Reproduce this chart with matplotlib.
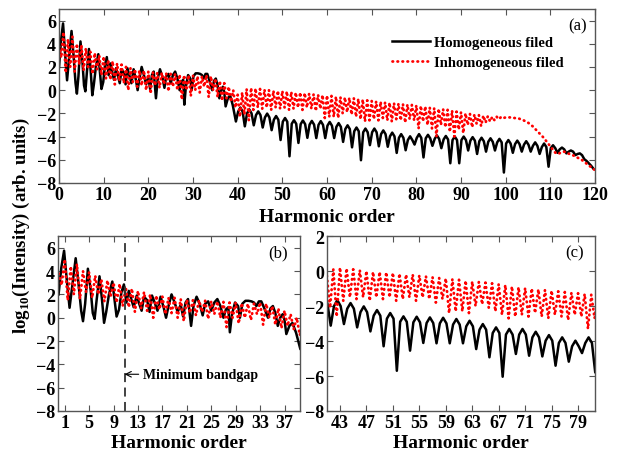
import numpy as np
import matplotlib
matplotlib.use('Agg')
import matplotlib.pyplot as plt

plt.rcParams['font.family'] = ['Liberation Serif', 'DejaVu Serif']
plt.rcParams['font.weight'] = 'bold'
plt.rcParams['axes.labelweight'] = 'bold'
plt.rcParams['mathtext.fontset'] = 'custom'
plt.rcParams['mathtext.rm'] = 'Liberation Serif:bold'
plt.rcParams['mathtext.bf'] = 'Liberation Serif:bold'

# ---------------- data ----------------
# Homogeneous field, low orders: explicit (order, log10 I) points
black_low_x = [0.0, 0.45, 0.9, 1.35, 1.8, 2.3, 2.8, 3.25, 3.7, 4.0, 4.35, 4.8, 5.25, 5.6, 5.9,
               6.25, 6.7, 7.1, 7.45, 7.8, 8.25, 8.8, 9.15, 9.5, 9.9, 10.3, 10.7, 11.1, 11.5,
               11.9, 12.3, 12.8, 13.2, 13.6, 14.0, 14.5, 14.9, 15.3, 15.8, 16.2, 16.7, 17.2,
               17.6, 18.0, 18.5, 19.0, 19.5, 20.0, 20.4, 20.8, 21.2, 21.7, 22.1, 22.6, 23.1,
               23.6, 24.0, 24.5, 25.0, 25.5, 26.0, 26.5, 27.0, 27.4, 27.8, 28.05, 28.4, 28.9,
               29.4, 29.7, 30.1, 30.6, 31.1, 31.6, 32.0, 32.4, 32.8, 33.2, 33.7, 34.3, 34.7,
               35.1, 35.5, 35.9, 36.3, 36.7, 37.0, 37.3, 37.8, 38.3, 38.9]
black_low_y = [2.0, 4.3, 5.75, 3.2, 0.85, 3.0, 5.1, 3.0, 0.6, -0.3, 1.2, 4.2, 2.4, 0.4, -0.1,
               1.6, 3.55, 1.6, -0.44, 0.5, 2.0, 3.1, 1.6, 0.1, 0.7, 2.2, 2.85, 1.3, 2.3,
               1.6, 0.9, 1.9, 1.2, 0.6, 1.8, 1.5, 0.5, 1.9, 1.2, 0.6, 1.8, 0.9,
               0.0, 1.0, 2.0, 1.3, 0.5, 1.1, 0.1, 1.3, 1.6, -0.7, 1.0, 1.8, 1.2,
               0.2, 1.2, 1.4, 0.6, 1.3, 1.6, 1.0, 0.0, 0.7, 0.9, -1.25, 0.3, 1.3,
               1.0, 0.0, 1.2, 1.45, 1.45, 1.4, 1.3, 1.0, 1.4, 1.4, 0.8, 0.0, 0.8,
               1.0, 0.4, -0.7, 0.0, 0.3, -0.2, -1.4, -0.7, -0.45, -1.3]
# Homogeneous field, orders 39.6 .. 119.6 every half order (trough, shoulder, peak, shoulder ...)
black_high_start = 39.6
black_high_y = [
    -2.70, -1.85, -1.50, -1.85,
    -3.12, -2.00, -1.66, -2.00,
    -3.03, -2.15, -1.83, -2.15,
    -3.22, -2.35, -2.02, -2.35,
    -3.45, -2.55, -2.23, -2.55,
    -4.30, -2.72, -2.40, -2.72,
    -5.70, -2.90, -2.59, -2.90,
    -4.55, -2.93, -2.61, -2.93,
    -4.11, -2.97, -2.65, -2.97,
    -4.13, -2.99, -2.67, -2.99,
    -4.13, -3.06, -2.74, -3.06,
    -4.13, -3.16, -2.84, -3.16,
    -4.46, -3.35, -3.03, -3.35,
    -4.93, -3.54, -3.22, -3.54,
    -6.04, -3.63, -3.31, -3.63,
    -4.74, -3.63, -3.31, -3.63,
    -4.84, -3.79, -3.47, -3.79,
    -4.88, -3.98, -3.66, -3.98,
    -5.41, -4.11, -3.79, -4.11,
    -5.18, -4.30, -3.98, -4.30,
    -4.69, -4.11, -3.79, -4.11,
    -5.80, -4.15, -3.85, -4.15,
    -4.80, -4.20, -3.90, -4.20,
    -5.00, -4.25, -3.95, -4.25,
    -6.30, -4.30, -4.00, -4.30,
    -6.30, -4.30, -4.00, -4.30,
    -5.20, -4.35, -4.05, -4.35,
    -5.50, -4.40, -4.10, -4.40,
    -5.30, -4.45, -4.15, -4.45,
    -5.20, -4.50, -4.20, -4.50,
    -7.10, -4.60, -4.30, -4.60,
    -5.40, -4.65, -4.35, -4.65,
    -5.30, -4.70, -4.40, -4.70,
    -5.30, -4.80, -4.50, -4.80,
    -5.50, -4.90, -4.60, -4.90,
    -6.60, -5.00, -4.75, -5.00,
    -5.40, -5.10, -4.95, -5.10,
    -5.45, -5.30, -5.20, -5.30,
    -5.60, -5.50, -5.45, -5.60,
    -5.95, -6.10, -6.30, -6.50,
    -6.75]

# Inhomogeneous field: values at integer orders 0..120 (upper) and half orders 0.5..119.5 (dips)
red_top = [3.8, 5.0, 4.4, 4.6, 4.0, 3.9, 3.6, 3.3, 3.2, 3.0, 2.9,
           2.6, 2.5, 2.3, 2.2, 2.0, 1.9, 1.8, 1.7, 1.7, 1.6,
           1.55, 1.5, 1.5, 1.45, 1.4, 1.4, 1.35, 1.3, 1.3, 1.25,
           1.2, 1.2, 1.3, 1.2, 1.0, 0.8, 0.6, 0.3, 0.0, -0.4,
           -0.2, 0.1, 0.2, 0.15, 0.1, 0.05, 0.0, -0.05, -0.05, -0.07,
           -0.1, -0.15, -0.2, -0.2, -0.25, -0.3, -0.35, -0.4, -0.42, -0.46,
           -0.5, -0.55, -0.6, -0.62, -0.66, -0.7, -0.75, -0.8, -0.88, -0.93,
           -0.97, -1.0, -1.05, -1.08, -1.12, -1.16, -1.2, -1.24, -1.27, -1.31,
           -1.35, -1.4, -1.5, -1.55, -1.6, -1.65, -1.7, -1.75, -1.85, -1.9,
           -2.0, -2.05, -2.1, -2.15, -2.2, -2.25, -2.3, -2.3, -2.3, -2.35,
           -2.35, -2.4, -2.45, -2.6, -2.8, -3.1, -3.5, -3.9, -4.35, -4.85,
           -5.35, -5.45, -5.3, -5.45, -5.6, -5.8, -6.0, -6.3, -6.6, -6.9]
red_dip = [2.8, 1.5, 2.0, 1.6, 2.2, 1.7, 2.0, 1.4, 1.8, 1.3,
           1.0, 0.9, 0.5, 0.8, 0.6, 0.0, 0.7, 0.3, 0.4, 0.0,
           -0.3, 0.4, 0.2, 0.5, -0.1, 0.3, 0.0, -0.8, 0.0, -0.5,
           0.0, -0.2, 0.3, -0.6, 0.0, -0.6, -0.9, -0.7, -1.0, -1.5,
           -2.3, -2.1, -2.6, -1.7, -1.5, -1.6, -1.5, -1.7, -1.5, -1.6,
           -1.5, -1.7, -1.6, -1.5, -1.7, -1.5, -1.6, -1.8, -1.6, -2.4,
           -2.3, -2.3, -2.4, -2.0, -1.9, -2.1, -2.3, -2.5, -2.7, -2.6,
           -2.5, -2.6, -2.4, -2.6, -2.7, -2.5, -2.6, -2.8, -2.5, -2.6,
           -3.3, -2.7, -3.0, -3.3, -4.0, -3.0, -3.2, -3.6, -4.0, -3.4,
           -3.7, -3.0, -3.2, -2.9, -3.1, -2.8, -2.7, -2.6, -2.5, -2.4,
           -2.35, -2.4, -2.45, -2.55, -2.7, -2.95, -3.3, -3.7, -4.1, -4.6,
           -5.1, -5.5, -5.35, -5.35, -5.55, -5.7, -5.9, -6.15, -6.45, -6.75]

bandgap_order = 10.8
xticks_a = [0, 10, 20, 30, 40, 50, 60, 70, 80, 90, 100, 110, 120]
xticks_b = [1, 5, 9, 13, 17, 21, 25, 29, 33, 37]
xticks_c = [43, 47, 51, 55, 59, 63, 67, 71, 75, 79]
yticks_ab = [-8, -6, -4, -2, 0, 2, 4, 6]
yticks_c = [-8, -6, -4, -2, 0, 2]

# ---------------- assemble series ----------------
black_high_x = black_high_start + 0.5 * np.arange(len(black_high_y))
black_x = np.concatenate([black_low_x, black_high_x])
black_y = np.concatenate([black_low_y, black_high_y])

red_x = 0.5 * np.arange(len(red_top) + len(red_dip))
red_y = np.empty(len(red_x))
red_y[0::2] = red_top
red_y[1::2] = red_dip

# ---------------- figure ----------------
fig = plt.figure(figsize=(6.2, 4.52), dpi=100)
ax_a = fig.add_axes([0.0952, 0.593, 0.8645, 0.385])
ax_b = fig.add_axes([0.0935, 0.0885, 0.390, 0.387])
ax_c = fig.add_axes([0.527, 0.0885, 0.432, 0.387])

spine_col = '#555555'
for ax in (ax_a, ax_b, ax_c):
    lb, = ax.plot(black_x, black_y, color='black', lw=1.8, label='Homogeneous filed')
    lr, = ax.plot(red_x, red_y, color='red', lw=2.0, linestyle=(0, (0.2, 1.6)),
                  dash_capstyle='round', label='Inhomogeneous filed')
    for s in ax.spines.values():
        s.set_color(spine_col)
        s.set_linewidth(1.0)
    ax.tick_params(direction='in', top=True, right=True, length=4, width=0.8,
                   color=spine_col, labelsize=13, pad=2)

ax_a.set_xlabel('Harmonic order', fontsize=14, fontweight='bold', labelpad=4)
ax_b.set_xlabel('Harmonic order', fontsize=14, fontweight='bold', labelpad=2)
ax_c.set_xlabel('Harmonic order', fontsize=14, fontweight='bold', labelpad=2)

ax_a.set_xlim(0, 120)
ax_a.set_ylim(-8, 7)
ax_a.set_xticks(xticks_a)
ax_a.set_yticks(yticks_ab)
ax_a.text(0.985, 0.95, '(a)', transform=ax_a.transAxes, ha='right', va='top',
          fontsize=12, fontweight='normal')
ax_a.legend(handles=[lb, lr], loc='upper left', bbox_to_anchor=(0.61, 0.88),
            frameon=False, fontsize=10.5, handlelength=2.6, handletextpad=0.3,
            labelspacing=0.5, borderaxespad=0)

ax_b.set_xlim(-0.1, 39.5)
ax_b.set_ylim(-8, 7)
ax_b.set_xticks(xticks_b)
ax_b.set_yticks(yticks_ab)
ax_b.axvline(bandgap_order, color='#333333', lw=1.3, ls=(0, (5, 3)))
ax_b.annotate('Minimum bandgap', xy=(bandgap_order, -4.85), xytext=(13.8, -4.85),
              fontsize=10, va='center', ha='left',
              arrowprops=dict(arrowstyle='->', lw=0.8, color='black',
                              shrinkA=1, shrinkB=0))
ax_b.text(0.95, 0.95, '(b)', transform=ax_b.transAxes, ha='right', va='top',
          fontsize=12, fontweight='normal')

ax_c.set_xlim(41, 81.5)
ax_c.set_ylim(-8, 2)
ax_c.set_xticks(xticks_c)
ax_c.set_yticks(yticks_c)
ax_c.text(0.96, 0.95, '(c)', transform=ax_c.transAxes, ha='right', va='top',
          fontsize=12, fontweight='normal')

fig.text(0.035, 0.5, r'log$_{\mathbf{10}}$(Intensity) (arb. units)', rotation=90,
         ha='center', va='center', fontsize=13.5)

fig.savefig('out.png', dpi=100)
